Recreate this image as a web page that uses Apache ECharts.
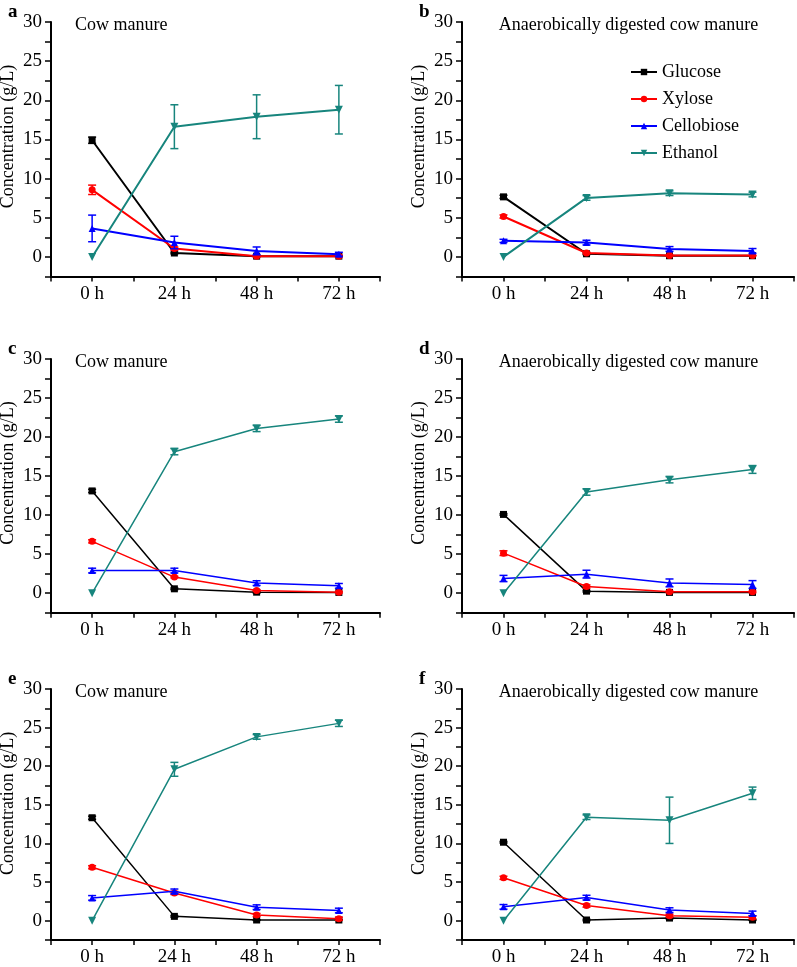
<!DOCTYPE html>
<html>
<head>
<meta charset="utf-8">
<script src="https://cdn.jsdelivr.net/npm/echarts@6/dist/echarts.min.js"></script>
<style>
html,body{margin:0;padding:0;background:#fff;}
#chart{width:797px;height:967px;}
</style>
</head>
<body>
<div id="chart"></div>
<script>
// ---- data ----
const times = [0, 24, 48, 72];
const timeLabels = ['0 h', '24 h', '48 h', '72 h'];
const seriesNames = ['Glucose', 'Xylose', 'Cellobiose', 'Ethanol'];
const panelLetters = ['a', 'b', 'c', 'd', 'e', 'f'];
const panelTitles = ['Cow manure', 'Anaerobically digested cow manure', 'Cow manure', 'Anaerobically digested cow manure', 'Cow manure', 'Anaerobically digested cow manure'];
const yTickValues = [0, 5, 10, 15, 20, 25, 30];

// one row per panel (a..f), one value per time point
const glucoseMean = [
  [14.9, 0.5, 0.1, 0.1],
  [7.67, 0.4, 0.15, 0.15],
  [13.1, 0.56, 0.13, 0.1],
  [10.09, 0.26, 0.1, 0.1],
  [13.33, 0.56, 0.09, 0.09],
  [10.16, 0.09, 0.34, 0.09]
];
const glucoseErr = [
  [0.4, 0.1, 0.05, 0.05],
  [0.2, 0.1, 0, 0],
  [0.2, 0.1, 0.1, 0],
  [0.1, 0.1, 0, 0],
  [0.2, 0.1, 0.05, 0.05],
  [0.1, 0.1, 0.1, 0.05]
];
const xyloseMean = [
  [8.57, 1.07, 0.1, 0.1],
  [5.16, 0.5, 0.17, 0.17],
  [6.64, 2.06, 0.34, 0.13],
  [5.13, 0.85, 0.17, 0.17],
  [6.92, 3.59, 0.73, 0.26],
  [5.55, 1.96, 0.64, 0.43]
];
const xyloseErr = [
  [0.6, 0.2, 0.1, 0.1],
  [0.2, 0.1, 0.05, 0.05],
  [0.2, 0.1, 0.1, 0.1],
  [0.3, 0.2, 0.1, 0.1],
  [0.2, 0.2, 0.2, 0.2],
  [0.2, 0.2, 0.2, 0.2]
];
const cellobioseMean = [
  [3.64, 1.84, 0.77, 0.34],
  [2.05, 1.83, 1.02, 0.77],
  [2.9, 2.9, 1.29, 0.94],
  [1.88, 2.44, 1.32, 1.11],
  [2.95, 3.8, 1.75, 1.32],
  [1.79, 2.99, 1.37, 0.94]
];
const cellobioseErr = [
  [1.7, 0.8, 0.5, 0.25],
  [0.2, 0.3, 0.3, 0.3],
  [0.3, 0.3, 0.3, 0.3],
  [0.4, 0.5, 0.5, 0.5],
  [0.3, 0.3, 0.3, 0.3],
  [0.3, 0.3, 0.3, 0.3]
];
const ethanolMean = [
  [0, 16.63, 17.9, 18.8],
  [0, 7.54, 8.14, 7.97],
  [0, 18.13, 21.1, 22.3],
  [0, 12.95, 14.53, 15.85],
  [0, 19.6, 23.8, 25.55],
  [0, 13.4, 13.0, 16.5]
];
const ethanolErr = [
  [0, 2.8, 2.8, 3.1],
  [0, 0.3, 0.3, 0.3],
  [0, 0.4, 0.4, 0.4],
  [0, 0.4, 0.4, 0.5],
  [0, 0.9, 0.3, 0.4],
  [0, 0.3, 3.0, 0.8]
];

// ---- layout / style ----
const FONT = 'Liberation Serif';
const colors = ['#000000', '#ff0000', '#0000ff', '#17857d'];
const symbols = ['rect', 'circle', 'triangle', 'path://M0,0 L10,0 L5,9 Z'];
const colLeft = [51, 462];
const colWidth = [329, 333];
const rowTop = [22, 359, 689];
const rowHeight = [254.5, 253.7, 254.3];
const lineWidths = [2, 2, 1.5, 1.5, 1.5, 1.5];
const allMeans = [glucoseMean, xyloseMean, cellobioseMean, ethanolMean];
const allErrs = [glucoseErr, xyloseErr, cellobioseErr, ethanolErr];

const grids = [], xAxes = [], yAxes = [], lineSeries = [], errSeries = [], graphics = [];
for (let p = 0; p < 6; p++) {
  const col = p % 2, row = Math.floor(p / 2);
  const left = colLeft[col], width = colWidth[col], top = rowTop[row], height = rowHeight[row];
  grids.push({ left: left, top: top, width: width, height: height, containLabel: false });
  xAxes.push({
    type: 'value', gridIndex: p, min: -12, max: 84, interval: 12,
    axisLine: { show: true, onZero: false, lineStyle: { color: '#000', width: 2 } },
    axisTick: { show: true, inside: false, length: 5, lineStyle: { color: '#000', width: 1.5 } },
    splitLine: { show: false },
    axisLabel: {
      color: '#000', fontFamily: FONT, fontSize: 19, margin: 8,
      formatter: function (v) { const i = times.indexOf(v); return i >= 0 ? timeLabels[i] : ''; }
    }
  });
  yAxes.push({
    type: 'value', gridIndex: p, min: -2.5, max: 30, interval: 2.5,
    axisLine: { show: true, onZero: false, lineStyle: { color: '#000', width: 2 } },
    axisTick: { show: true, inside: false, length: 6, lineStyle: { color: '#000', width: 1.5 } },
    splitLine: { show: false },
    axisLabel: {
      color: '#000', fontFamily: FONT, fontSize: 19, margin: 9,
      formatter: function (v) { return yTickValues.indexOf(v) >= 0 ? String(v) : ''; }
    }
  });
  for (let s = 0; s < 4; s++) {
    const mean = allMeans[s][p], err = allErrs[s][p];
    lineSeries.push({
      type: 'line', name: seriesNames[s], xAxisIndex: p, yAxisIndex: p,
      data: times.map((t, i) => [t, mean[i]]),
      symbol: symbols[s], symbolSize: s === 3 ? 8 : 7,
      itemStyle: { color: colors[s] },
      lineStyle: { color: colors[s], width: lineWidths[p] },
      z: 3 + s
    });
    errSeries.push({
      type: 'custom', name: seriesNames[s], xAxisIndex: p, yAxisIndex: p,
      data: times.map((t, i) => [t, mean[i], err[i]]),
      encode: { x: 0, y: 1 },
      z: 3 + s,
      renderItem: (function (c) {
        return function (params, api) {
          const x = api.value(0), m = api.value(1), e = api.value(2);
          if (!e) return null;
          const tp = api.coord([x, m + e]), bt = api.coord([x, m - e]);
          const hw = 4;
          const st = { stroke: c, lineWidth: 1.5 };
          return { type: 'group', children: [
            { type: 'line', shape: { x1: tp[0], y1: tp[1], x2: bt[0], y2: bt[1] }, style: st },
            { type: 'line', shape: { x1: tp[0] - hw, y1: tp[1], x2: tp[0] + hw, y2: tp[1] }, style: st },
            { type: 'line', shape: { x1: bt[0] - hw, y1: bt[1], x2: bt[0] + hw, y2: bt[1] }, style: st }
          ] };
        };
      })(colors[s])
    });
  }
  // texts
  const zeroY = top + height * 30 / 32.5;
  graphics.push({
    type: 'text', left: left - 43, top: top - 19,
    style: { text: panelLetters[p], font: 'bold 19px ' + FONT, fill: '#000' }
  });
  if (col === 0) {
    graphics.push({ type: 'text', x: left + 24, y: top + 3,
      style: { text: panelTitles[p], font: '18px ' + FONT, fill: '#000', textAlign: 'left', textVerticalAlign: 'middle' } });
  } else {
    graphics.push({ type: 'text', x: left + width / 2, y: top + 3,
      style: { text: panelTitles[p], font: '18px ' + FONT, fill: '#000', textAlign: 'center', textVerticalAlign: 'middle' } });
  }
  graphics.push({ type: 'text', x: left - 43, y: (top + zeroY) / 2 - 3, rotation: Math.PI / 2,
    style: { text: 'Concentration (g/L)', font: '18px ' + FONT, fill: '#000', textAlign: 'center', textVerticalAlign: 'middle' } });
}

const chart = echarts.init(document.getElementById('chart'), null, { renderer: 'canvas' });
chart.setOption({
  animation: false,
  backgroundColor: '#fff',
  grid: grids,
  xAxis: xAxes,
  yAxis: yAxes,
  legend: {
    data: seriesNames, orient: 'vertical', left: 625, top: 58,
    itemWidth: 26, itemHeight: 8, itemGap: 9,
    textStyle: { fontFamily: FONT, fontSize: 18, color: '#000' }
  },
  graphic: graphics,
  series: lineSeries.concat(errSeries)
});
</script>
</body>
</html>
